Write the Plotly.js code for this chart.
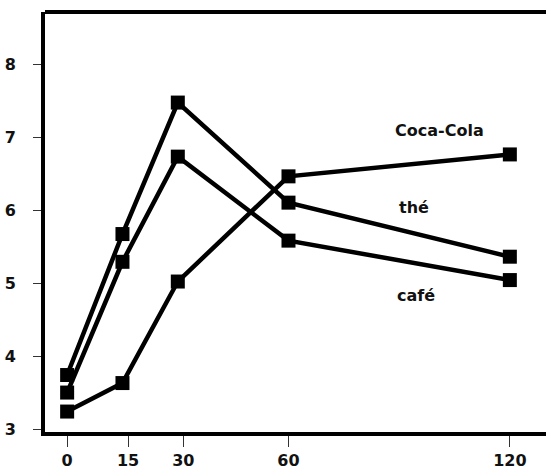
<!DOCTYPE html>
<html>
<head>
<meta charset="utf-8">
<script src="https://cdn.plot.ly/plotly-3.0.1.min.js"></script>
<style>html,body{margin:0;padding:0;background:#fff;}#chart{width:546px;height:470px;}</style>
</head>
<body>
<div id="chart"></div>
<script>
var times = [0, 15, 30, 60, 120];
var xTickLabels = ["0", "15", "30", "60", "120"];
var xTickPos = [0, 16.5, 31.5, 60, 120];
var yTicks = [3, 4, 5, 6, 7, 8];
var seriesTop = [3.75, 5.68, 7.48, 6.11, 5.37];
var seriesMid = [3.51, 5.30, 6.74, 5.59, 5.05];
var seriesCoca = [3.25, 3.64, 5.03, 6.47, 6.77];
var labelNames = ["Coca-Cola", "thé", "café"];
var labelX = [101, 94, 94.6];
var labelY = [7.10, 6.05, 4.84];

function mk(y) {
  return {x: times, y: y, type: 'scatter', mode: 'lines+markers',
    line: {color: '#000', width: 4.5},
    marker: {symbol: 'square', size: 14, color: '#000'},
    showlegend: false, hoverinfo: 'skip'};
}
var data = [mk(seriesTop), mk(seriesMid), mk(seriesCoca)];

var annotations = labelNames.map(function(t, i) {
  return {x: labelX[i], y: labelY[i], text: t, showarrow: false,
    font: {family: 'DejaVu Sans', size: 16, weight: 'bold', color: '#111'}};
});

var layout = {
  width: 546, height: 470,
  margin: {l: 45, r: 0, t: 12, b: 38},
  paper_bgcolor: '#fff', plot_bgcolor: '#fff',
  font: {family: 'DejaVu Sans', color: '#111'},
  xaxis: {range: [-6, 129.8], tickvals: xTickPos, ticktext: xTickLabels,
    showgrid: false, zeroline: false, showline: true, linecolor: '#000', linewidth: 4,
    ticks: 'outside', ticklen: 11, tickwidth: 1, tickcolor: '#333',
    tickfont: {family: 'DejaVu Sans', size: 16, weight: 'bold', color: '#111'}},
  yaxis: {range: [2.97, 8.72], tickvals: yTicks, ticktext: yTicks.map(String),
    showgrid: false, zeroline: false, showline: true, linecolor: '#000', linewidth: 4,
    ticks: 'outside', ticklen: 8, tickwidth: 1, tickcolor: '#333', ticklabelstandoff: 14,
    tickfont: {family: 'DejaVu Sans', size: 16, weight: 'bold', color: '#111'}},
  shapes: [{type: 'line', xref: 'paper', yref: 'paper', x0: 0, x1: 1, y0: 1, y1: 1,
    line: {color: '#000', width: 4}}],
  annotations: annotations
};
Plotly.newPlot('chart', data, layout, {displayModeBar: false, staticPlot: true});
</script>
</body>
</html>
